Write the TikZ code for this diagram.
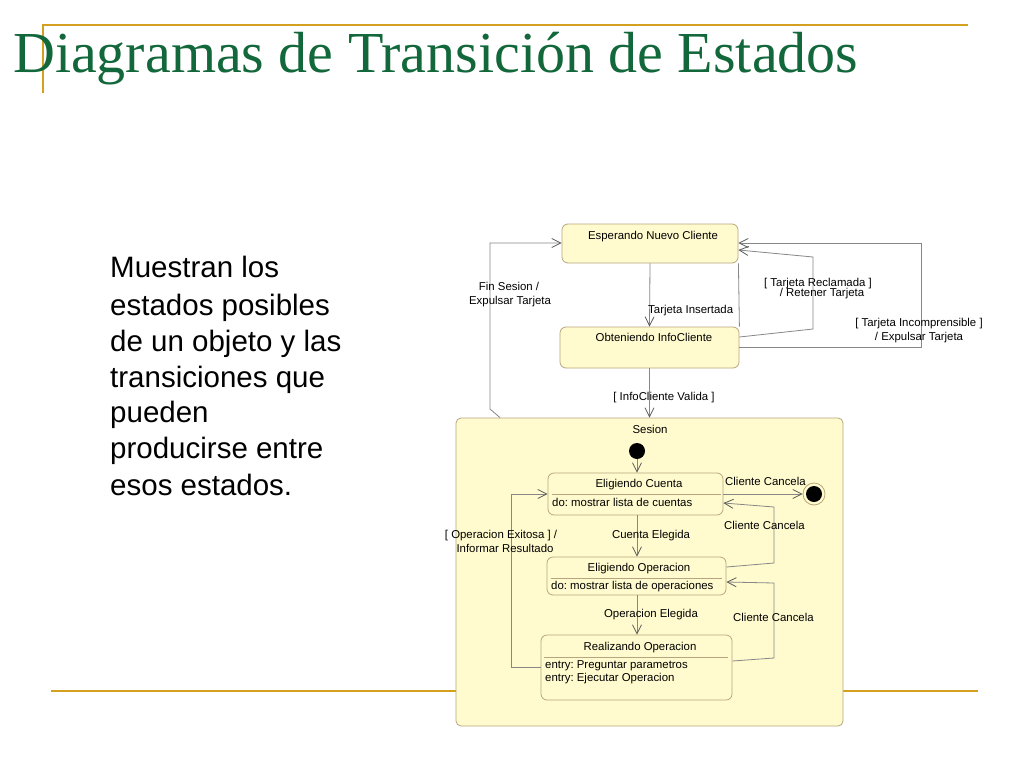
\documentclass[tikz,border=0pt]{standalone}
\usepackage{fontspec}
\setmainfont{Liberation Serif}
\newfontfamily\arialf{Liberation Sans}
\usetikzlibrary{arrows.meta,calc}
\definecolor{titlegreen}{RGB}{18,104,58}
\definecolor{gold}{RGB}{212,160,32}
\definecolor{sfill}{RGB}{255,251,206}
\definecolor{sborder}{RGB}{185,165,125}
\definecolor{conngray}{RGB}{135,135,135}
\definecolor{tipgray}{RGB}{90,90,90}
\frenchspacing
\begin{document}
\begin{tikzpicture}[x=1pt,y=-1pt,
  statebox/.style={draw=sborder, fill=sfill, rounded corners=6pt, line width=0.8pt, inner sep=0pt},
  lab/.style={font=\arialf\fontsize{11.4}{13}\selectfont, inner sep=0pt},
  body/.style={font=\arialf\fontsize{29.5}{36}\selectfont, inner sep=0pt, anchor=base west},
  conn/.style={draw=conngray, line width=0.8pt, -{Straight Barb[length=9pt,width=9pt,color=tipgray]}},
  plain/.style={draw=conngray, line width=0.8pt},
  sep/.style={draw=sborder, line width=0.8pt},
  deco/.style={draw=gold, line width=2.6pt}]
\fill[white] (0,0) rectangle (1024,768);
\useasboundingbox (0,0) rectangle (1024,768);
% decorative lines
\draw[deco] (42,25) -- (968,25);
\draw[deco] (43,25) -- (43,93);
\draw[deco] (51,691) -- (978,691);
% title
\node[anchor=base west, inner sep=0pt, text=titlegreen, font=\fontsize{58}{60}\selectfont] (title) at (13,72) {Diagramas de Transición de Estados};
% body text
\node[body] (b1) at (110,277) {Muestran los};
\node[body] (b2) at (110,315) {estados posibles};
\node[body] (b3) at (110,351) {de un objeto y las};
\node[body] (b4) at (110,387) {transiciones que};
\node[body] (b5) at (110,422) {pueden};
\node[body] (b6) at (110,458) {producirse entre};
\node[body] (b7) at (110,495) {esos estados.};
% states
\node[statebox, minimum width=176pt, minimum height=39pt] (esp) at (650,243.5) {};
\node[statebox, minimum width=179pt, minimum height=41pt] (obt) at (649.5,347.5) {};
\node[statebox, rounded corners=5pt, minimum width=387pt, minimum height=308pt] (ses) at (649.5,572) {};
\node[statebox, minimum width=175pt, minimum height=42pt] (ec) at (635.5,494) {};
\node[statebox, minimum width=179pt, minimum height=38pt] (eo) at (636.5,576) {};
\node[statebox, minimum width=191pt, minimum height=65pt] (ro) at (636.5,667.5) {};
\node[circle, fill=black, minimum size=16pt, inner sep=0pt] (init) at (637,451) {};
\node[circle, draw=sborder, fill=sfill, line width=0.8pt, minimum size=22pt, inner sep=0pt] (fin) at (814,494) {};
\node[circle, fill=black, minimum size=16pt, inner sep=0pt] (finin) at (814,494) {};
% separators
\draw[sep] ($(ec.west)+(4,0)$) -- ($(ec.east)+(-2,0)$);
\draw[sep] ($(eo.west |- 0,578)+(4,0)$) -- ($(eo.east |- 0,578)+(-4,0)$);
\draw[sep] ($(ro.west |- 0,657)+(3,0)$) -- ($(ro.east |- 0,657)+(-4,0)$);
% connectors (top)
\draw[conn] (esp.south) -- (obt.north);
\draw[conn] (obt.south) -- (ses.north);
\draw[conn] (ses.north -| 500,0) -- (490,409) -- (490,243) -- (esp.west |- 0,243);
\draw[conn] (obt.east |- 0,337) -- (813,329) -- (813,257) -- (esp.east |- 0,250);
\draw[conn] (obt.east |- 0,347) -- (921,347) -- (921,243) -- (esp.east |- 0,243);
\draw[plain] (esp.south east) -- (obt.north east);
% connectors (inside Sesion)
\draw[conn] (init) -- (init |- ec.north);
\draw[conn] (ec.south -| init) -- (eo.north -| init);
\draw[conn] (eo.south -| init) -- (ro.north -| init);
\draw[conn] (ec.east) -- (fin.west);
\draw[conn] (eo.east |- 0,567) -- (774,563) -- (774,507) -- (ec.east |- 0,503);
\draw[conn] (ro.east |- 0,661) -- (774,658) -- (774,583) -- (eo.east |- 0,582);
\draw[conn] (ro.west |- 0,667) -- (511,667) -- (511,494) -- (ec.west);
% labels
\node[lab, anchor=base] (lesp) at (653,239) {Esperando Nuevo Cliente};
\node[lab, anchor=base] (lobt) at (654,341) {Obteniendo InfoCliente};
\node[lab, anchor=base west] (lti) at (648,313) {Tarjeta Insertada};
\node[lab, anchor=base] (liv) at (664,400) {[ InfoCliente Valida ]};
\node[lab, anchor=base] (lfs1) at (509,290) {Fin Sesion /};
\node[lab, anchor=base] (lfs2) at (510,304) {Expulsar Tarjeta};
\node[lab, anchor=base] (ltr1) at (818,286) {[ Tarjeta Reclamada ]};
\node[lab, anchor=base] (ltr2) at (822,296) {/ Retener Tarjeta};
\node[lab, anchor=base] (lti1) at (919,326) {[ Tarjeta Incomprensible ]};
\node[lab, anchor=base] (lti2) at (919,340) {/ Expulsar Tarjeta};
\node[lab, anchor=base] (lses) at (650,433) {Sesion};
\node[lab, anchor=base] (lec) at (639,487) {Eligiendo Cuenta};
\node[lab, anchor=base west] (lecd) at (552,506) {do: mostrar lista de cuentas};
\node[lab, anchor=base west] (lcc1) at (725,485) {Cliente Cancela};
\node[lab, anchor=base west] (lcc2) at (724,529) {Cliente Cancela};
\node[lab, anchor=base] (lce) at (651,538) {Cuenta Elegida};
\node[lab, anchor=base] (loe1) at (501,538) {[ Operacion Exitosa ] /};
\node[lab, anchor=base] (loe2) at (505,552) {Informar Resultado};
\node[lab, anchor=base] (leo) at (639,571) {Eligiendo Operacion};
\node[lab, anchor=base west] (leod) at (551,589) {do: mostrar lista de operaciones};
\node[lab, anchor=base] (loel) at (651,617) {Operacion Elegida};
\node[lab, anchor=base west] (lcc3) at (733,621) {Cliente Cancela};
\node[lab, anchor=base] (lro) at (640,650) {Realizando Operacion};
\node[lab, anchor=base west] (lro1) at (545,668) {entry: Preguntar parametros};
\node[lab, anchor=base west] (lro2) at (545,681) {entry: Ejecutar Operacion};
\end{tikzpicture}
\end{document}
